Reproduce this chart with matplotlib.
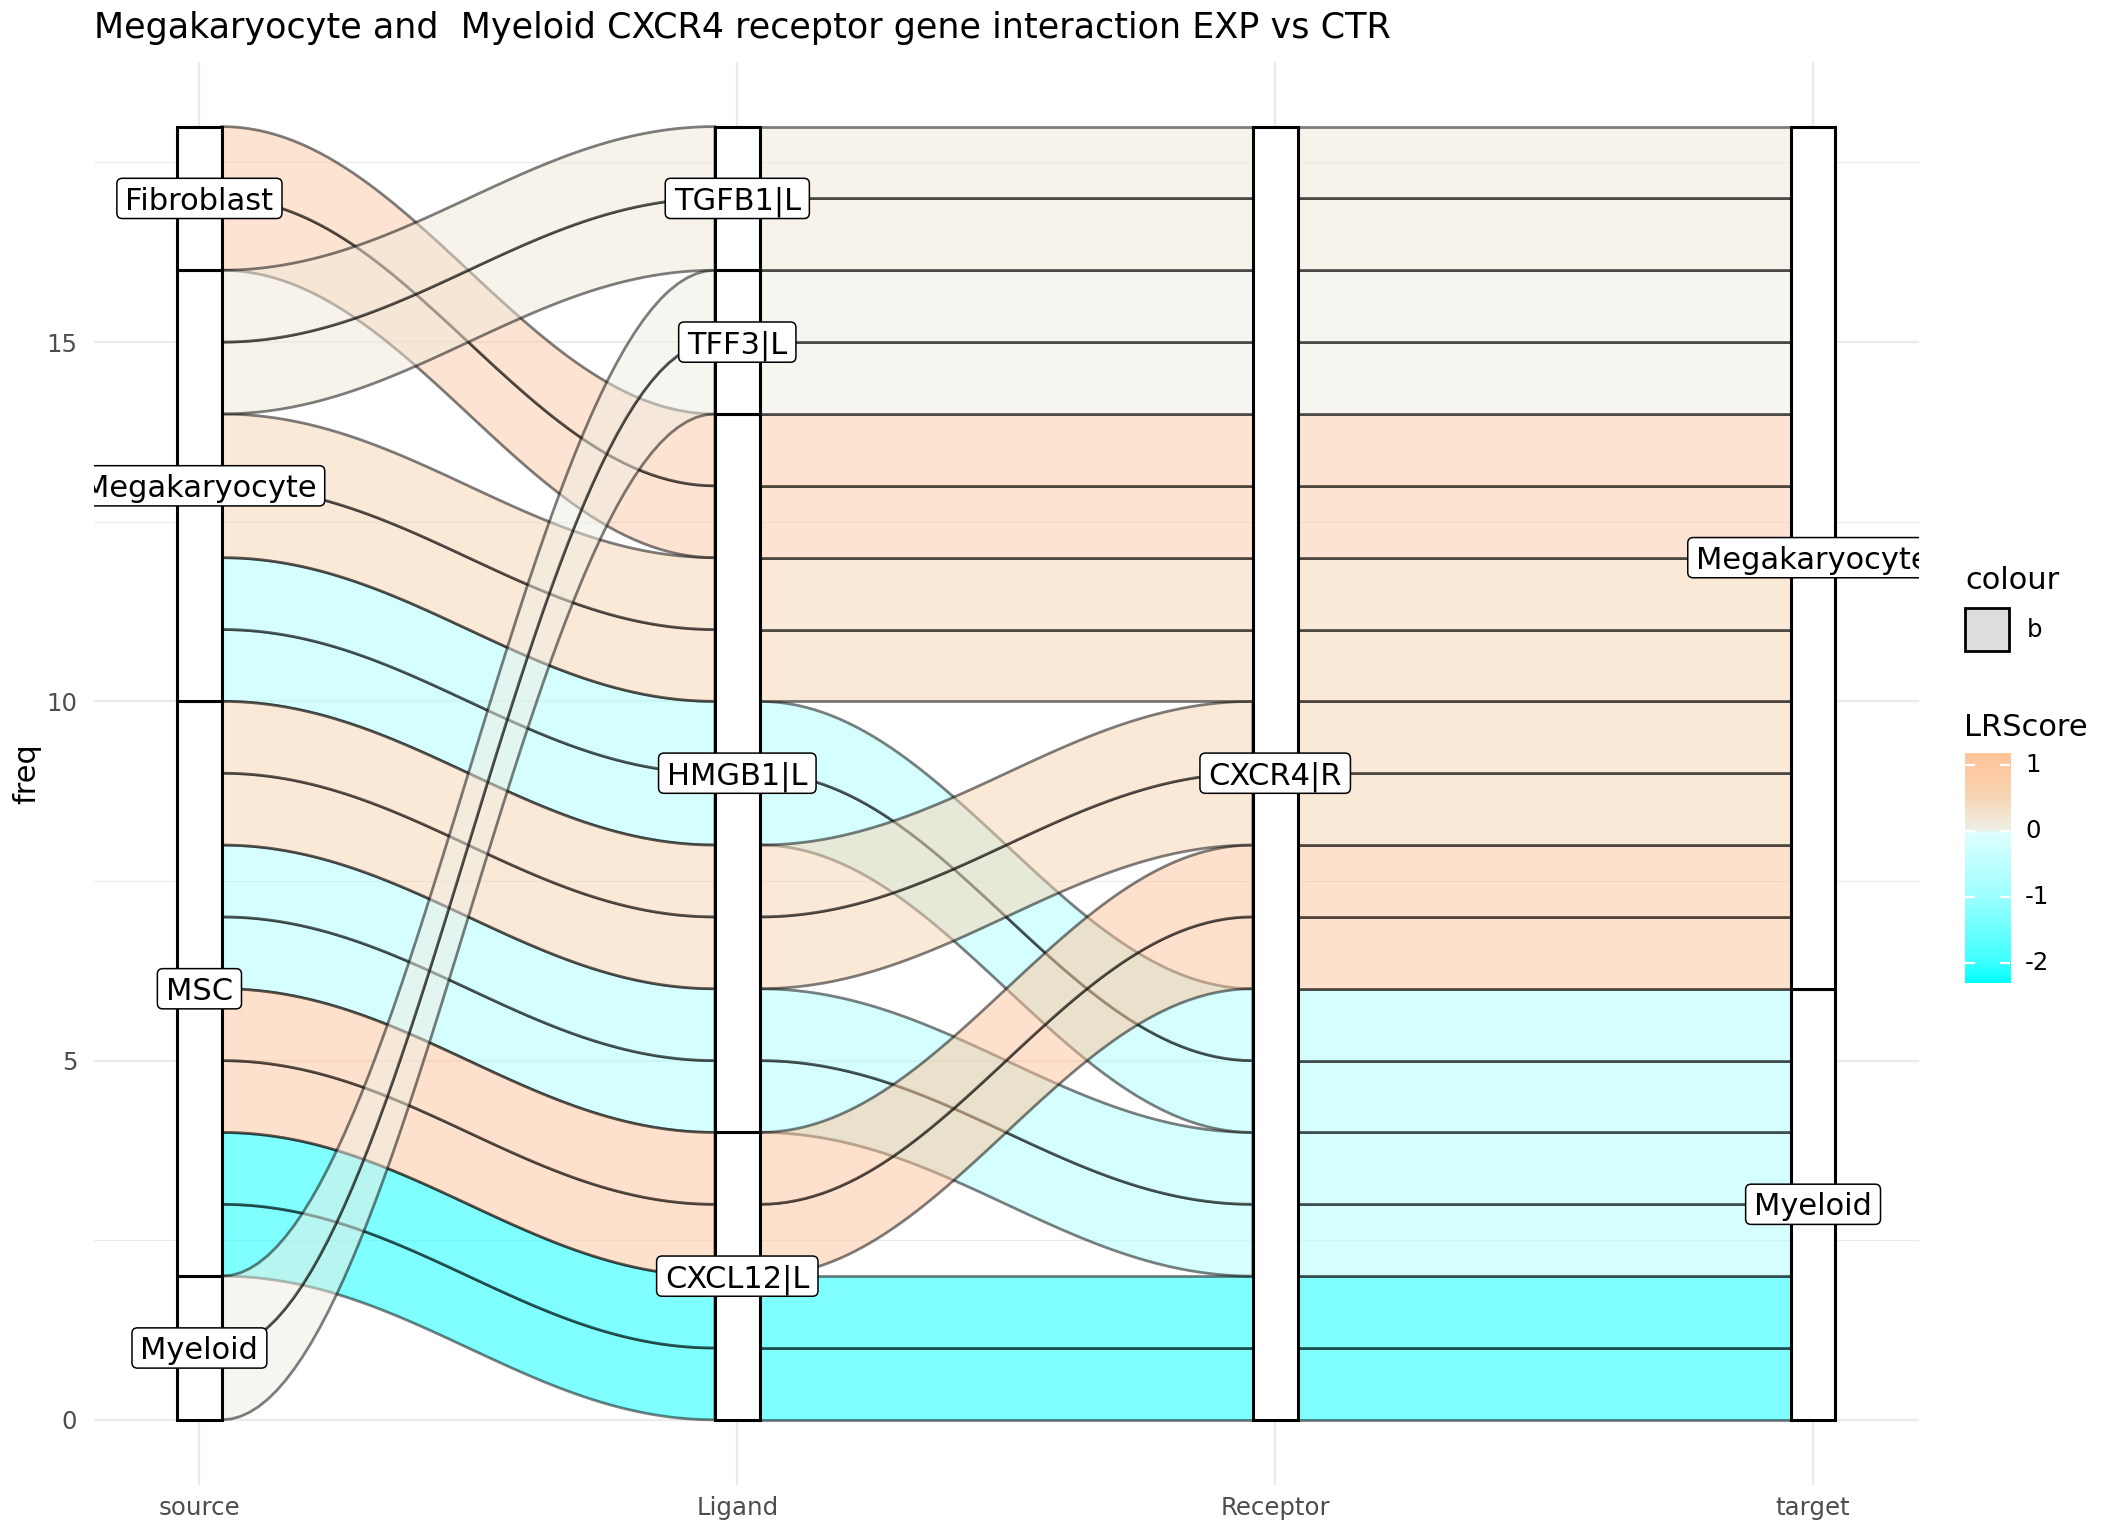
import numpy as np
import matplotlib
matplotlib.use("Agg")
import matplotlib.pyplot as plt
from matplotlib.colors import LinearSegmentedColormap, Normalize
from matplotlib.patches import Polygon, Rectangle, FancyBboxPatch
from matplotlib.transforms import offset_copy

# one row per ligand-receptor interaction (each freq 1)
source = ["MSC", "MSC", "MSC", "MSC", "Megakaryocyte", "Megakaryocyte",
          "MSC", "MSC", "MSC", "MSC", "Megakaryocyte", "Megakaryocyte",
          "Fibroblast", "Fibroblast", "Myeloid", "Myeloid",
          "Megakaryocyte", "Megakaryocyte"]
ligand = ["CXCL12|L", "CXCL12|L", "HMGB1|L", "HMGB1|L", "HMGB1|L", "HMGB1|L",
          "CXCL12|L", "CXCL12|L", "HMGB1|L", "HMGB1|L", "HMGB1|L", "HMGB1|L",
          "HMGB1|L", "HMGB1|L", "TFF3|L", "TFF3|L", "TGFB1|L", "TGFB1|L"]
receptor = ["CXCR4|R"] * 18
target = ["Myeloid"] * 6 + ["Megakaryocyte"] * 12
freq = [1] * 18
lrscore = [-2.3, -2.3, -0.75, -0.75, -0.75, -0.75,
           1.18, 1.18, 0.55, 0.55, 0.55, 0.55,
           0.85, 0.85, 0.05, 0.05, 0.15, 0.15]

# strata order, bottom to top
source_levels = ["Myeloid", "MSC", "Megakaryocyte", "Fibroblast"]
ligand_levels = ["CXCL12|L", "HMGB1|L", "TFF3|L", "TGFB1|L"]
receptor_levels = ["CXCR4|R"]
target_levels = ["Myeloid", "Megakaryocyte"]
axis_names = ["source", "Ligand", "Receptor", "target"]

title = "Megakaryocyte and  Myeloid CXCR4 receptor gene interaction EXP vs CTR"

vmin, vmax = -2.3, 1.18
stops = [(-2.3, "#00FFFF"), (-2.0, "#3CFFFF"), (-1.0, "#9CFFFF"),
         (-0.03, "#DEFFFF"), (0.03, "#EFEEE4"), (0.55, "#F8D5B2"),
         (0.85, "#FCCBA6"), (1.18, "#FEC49A")]
cmap = LinearSegmentedColormap.from_list(
    "lr", [((v - vmin) / (vmax - vmin), c) for v, c in stops])
norm = Normalize(vmin, vmax)

W, H, DPI = 2112, 1536, 200
fig = plt.figure(figsize=(W / DPI, H / DPI), dpi=DPI)
L, R, B, T = 94 / W, 1918.5 / W, 1 - 1484.5 / H, 1 - 61.9 / H
ax = fig.add_axes([L, B, R - L, T - B])

xlim = (0.804, 4.196)
ylim = (-0.9, 18.9)
ax.set_xlim(*xlim)
ax.set_ylim(*ylim)

columns = [source, ligand, receptor, target]
levels = [source_levels, ligand_levels, receptor_levels, target_levels]
n = len(freq)
ranks = np.array([[levels[k].index(columns[k][i]) for k in range(4)]
                  for i in range(n)])

# lode ordering: zigzag outward from each axis
zig = [[0, 1, 2, 3], [1, 0, 2, 3], [2, 3, 1, 0], [3, 2, 1, 0]]
lo = np.zeros((4, n))
for k in range(4):
    order = sorted(range(n), key=lambda i: tuple(ranks[i, j] for j in zig[k]) + (i,))
    cum = 0
    for i in order:
        lo[k, i] = cum
        cum += freq[i]


def curve(x0, x1, y0, y1, kk=0.375, m=60):
    t = np.linspace(0, 1, m)
    dx = x1 - x0
    cx0, cx1 = x0 + kk * dx, x1 - kk * dx
    xs = (1 - t) ** 3 * x0 + 3 * (1 - t) ** 2 * t * cx0 + 3 * (1 - t) * t ** 2 * cx1 + t ** 3 * x1
    ys = ((1 - t) ** 3 + 3 * (1 - t) ** 2 * t) * y0 + (3 * (1 - t) * t ** 2 + t ** 3) * y1
    return xs, ys


w = 1 / 12
for k in range(3):
    x0, x1 = k + 1 + w / 2, k + 2 - w / 2
    for i in range(n):
        xb, yb = curve(x0, x1, lo[k, i], lo[k + 1, i])
        xt, yt = curve(x0, x1, lo[k, i] + freq[i], lo[k + 1, i] + freq[i])
        pts = np.column_stack([np.r_[xb, xt[::-1]], np.r_[yb, yt[::-1]]])
        fc = list(cmap(norm(lrscore[i])))
        fc[3] = 0.5
        ax.add_patch(Polygon(pts, closed=True, facecolor=fc,
                             edgecolor=(0, 0, 0, 0.5), lw=1.0, zorder=2))

# strata
strata = []
for k in range(4):
    for lev in levels[k]:
        idx = [i for i in range(n) if columns[k][i] == lev]
        y0 = min(lo[k, i] for i in idx)
        y1 = max(lo[k, i] + freq[i] for i in idx)
        ax.add_patch(Rectangle((k + 1 - w / 2, y0), w, y1 - y0, facecolor="white",
                               edgecolor="black", lw=1.1, zorder=4))
        strata.append((k + 1, (y0 + y1) / 2, lev))

# labels
renderer = fig.canvas.get_renderer()
fs = 11
fs_px = fs * DPI / 72
pad_px = 8.5
ux = (xlim[1] - xlim[0]) / ax.bbox.width
uy = (ylim[1] - ylim[0]) / ax.bbox.height
for x, y, s in strata:
    tr = offset_copy(ax.transData, fig=fig, y=-0.365 * fs, units="points")
    t = ax.text(x, y, s, ha="center", va="baseline", fontsize=fs, transform=tr,
                zorder=7, clip_on=True)
    bb = t.get_window_extent(renderer)
    dx = (bb.width + 2 * pad_px) * ux
    dy = (0.76 * fs_px + 2 * pad_px) * uy
    ax.add_patch(FancyBboxPatch((x - dx / 2, y - dy / 2), dx, dy,
                                boxstyle="round,pad=0,rounding_size=%f" % (5.5 * ux),
                                mutation_aspect=uy / ux, facecolor="white",
                                edgecolor="black", lw=0.55, zorder=6))

# theme
for sp in ax.spines.values():
    sp.set_visible(False)
ax.set_xticks([1, 2, 3, 4], axis_names)
ax.set_yticks([0, 5, 10, 15])
ax.set_yticks([2.5, 7.5, 12.5, 17.5], minor=True)
ax.grid(which="major", color="#EBEBEB", lw=0.8)
ax.grid(which="minor", axis="y", color="#EBEBEB", lw=0.4)
ax.set_axisbelow(True)
ax.tick_params(which="both", length=0, labelsize=8.8, labelcolor="#4D4D4D")
ax.tick_params(axis="y", pad=6)
ax.tick_params(axis="x", pad=4)
ax.set_ylabel("freq", fontsize=11, labelpad=2)

fig.text(L, 1 - 38 / H, title, fontsize=12.6, ha="left", va="baseline")

# legends
fig.text(1965 / W, 1 - 580 / H, "colour", fontsize=11, ha="left", va="center")
fig.add_artist(Rectangle((1965 / W, 1 - 651 / H), 44 / W, 43 / H, transform=fig.transFigure,
                         facecolor="#DDDDDD", edgecolor="black", lw=1.0))
fig.text(2027 / W, 1 - 630 / H, "b", fontsize=8.8, ha="left", va="center")

fig.text(1964 / W, 1 - 727 / H, "LRScore", fontsize=11, ha="left", va="center")
cb_l, cb_b, cb_w, cb_h = 1965 / W, 1 - 983 / H, 45 / W, 230 / H
cax = fig.add_axes([cb_l, cb_b, cb_w, cb_h])
grad = np.linspace(vmin, vmax, 300).reshape(-1, 1)
cax.imshow(grad, aspect="auto", cmap=cmap, norm=norm, origin="lower",
           extent=[0, 1, vmin, vmax])
cax.set_xlim(0, 1)
cax.set_ylim(vmin, vmax)
cax.axis("off")
for v in [-2, -1, 0, 1]:
    cax.plot([0, 0.2], [v, v], color="white", lw=0.8)
    cax.plot([0.8, 1], [v, v], color="white", lw=0.8)
    fig.text(2025 / W, cb_b + (v - vmin) / (vmax - vmin) * cb_h, str(v),
             fontsize=8.8, ha="left", va="center")

fig.savefig("out.png", dpi=DPI)
